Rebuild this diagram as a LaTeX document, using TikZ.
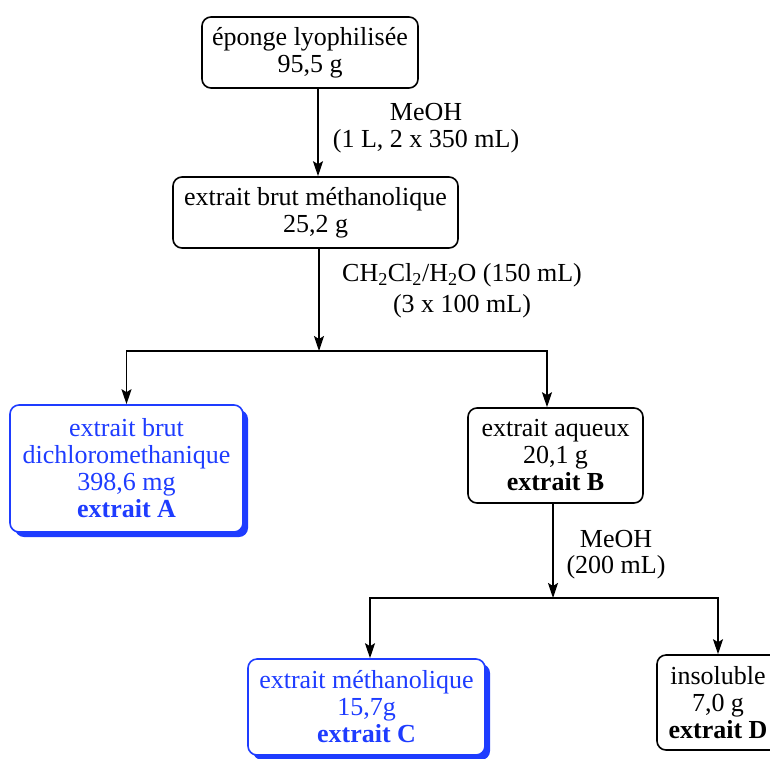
\documentclass[tikz,border=0pt]{standalone}
\usepackage{fontspec}
\setmainfont{Liberation Serif}
\usetikzlibrary{shadows,arrows.meta}
\definecolor{myblue}{RGB}{30,60,255}
\begin{document}
\begin{tikzpicture}[x=1pt,y=-1pt,
 box/.style={draw, line width=1.6pt, rounded corners=9pt, align=center, inner sep=0pt, font=\fontsize{26}{27}\selectfont},
 bluebox/.style={box, draw=myblue, text=myblue, fill=white, drop shadow={shadow xshift=5pt, shadow yshift=-5pt, fill=myblue, opacity=1}},
 lbl/.style={align=center, inner sep=0pt}]
\tikzset{arr/.style={line width=1.8pt, -{Stealth[length=15pt,width=10pt,inset=3pt]}}}
\useasboundingbox (0,0) rectangle (770,758);
\node[box, minimum width=216pt, minimum height=71pt] (b1) at (310,52.5) {éponge lyophilisée\\95,5 g};
\node[box, minimum width=285pt, minimum height=71pt] (b2) at (315.5,212.5) {extrait brut méthanolique\\25,2 g};
\node[bluebox, minimum width=233pt, minimum height=127pt] (bA) at (126.5,468.5) {extrait brut\\dichloromethanique\\398,6 mg\\\textbf{extrait A}};
\node[box, minimum width=175pt, minimum height=95pt] (bB) at (555.5,455.5) {extrait aqueux\\20,1 g\\\textbf{extrait B}};
\node[bluebox, minimum width=237pt, minimum height=96pt] (bC) at (366.5,707) {extrait méthanolique\\15,7g\\\textbf{extrait C}};
\node[box, minimum width=122pt, minimum height=95pt] (bD) at (718,702.5) {insoluble\\7,0 g\\\textbf{extrait D}};
\node[lbl, font=\fontsize{26}{27}\selectfont] (l1) at (426,128) {MeOH\\(1 L, 2 x 350 mL)};
\node[lbl, font=\fontsize{26}{31}\selectfont] (l2) at (462,291) {CH\textsubscript{2}Cl\textsubscript{2}/H\textsubscript{2}O (150 mL)\\(3 x 100 mL)};
\node[lbl, font=\fontsize{26}{26}\selectfont] (l3) at (616,555) {MeOH\\(200 mL)};
\coordinate (c1) at (318,0);
\coordinate (j1) at (319,351);
\coordinate (k1) at (547,351);
\coordinate (j2) at (553,598);
\coordinate (k2) at (370,598);
\draw[arr] (b1.south -| c1) -- (b2.north -| c1);
\draw[arr] (b2.south -| j1) -- (j1);
\draw[arr] (j1) -- (j1 -| bA.north) -- (bA.north);
\draw[arr] (j1) -- (k1) -- (k1 |- bB.north);
\draw[arr] (bB.south -| j2) -- (j2);
\draw[arr] (j2) -- (k2) -- (k2 |- bC.north);
\draw[arr] (j2) -- (j2 -| bD.north) -- (bD.north);
\end{tikzpicture}
\end{document}
